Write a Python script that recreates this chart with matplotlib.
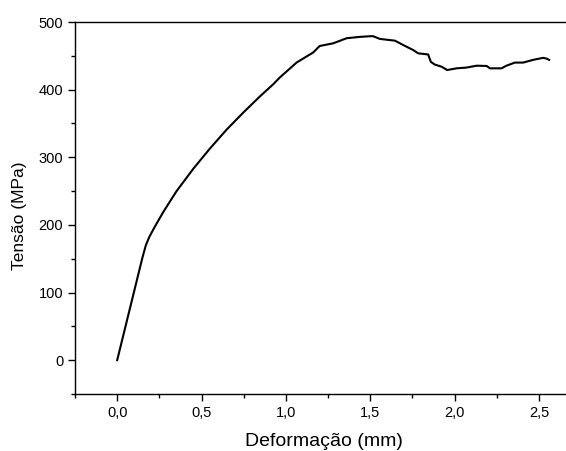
import matplotlib
matplotlib.use("Agg")
import matplotlib.pyplot as plt
from matplotlib.ticker import MultipleLocator, FuncFormatter

plt.rcParams['font.family'] = ['Liberation Sans', 'DejaVu Sans']

# curve
deformacao = [0.0, 0.15, 0.17, 0.19, 0.22, 0.273, 0.352, 0.451, 0.55,
              0.649, 0.747, 0.846, 0.925, 0.964, 1.063, 1.162, 1.20, 1.28, 1.36,
              1.438, 1.50, 1.517, 1.557, 1.646, 1.695, 1.754, 1.784, 1.843, 1.859,
              1.883, 1.922, 1.956, 2.011, 2.07, 2.13, 2.19, 2.209, 2.278, 2.307,
              2.357, 2.406, 2.465, 2.524, 2.544, 2.56]
tensao = [0, 152, 170, 182, 196, 219, 250, 283, 313,
          341, 366, 390, 408, 418, 440, 455, 464.5, 468.5, 476,
          478, 479, 479, 475, 472.4, 466, 458.6, 453.7, 452, 441,
          437, 434, 429, 431.5, 432.6, 435.4, 435, 431.5, 431.5, 435.4,
          440, 440, 444, 447, 446, 444]

fig = plt.figure(figsize=(5.66, 4.51), dpi=100)
ax = fig.add_axes([75 / 566, 1 - 394 / 451, 1 - 75 / 566, (394 - 22) / 451])

ax.plot(deformacao, tensao, color='black', lw=1.5)

ax.set_xlim(-0.25, 2.66)
ax.set_ylim(-50, 500)
ax.xaxis.set_major_locator(MultipleLocator(0.5))
ax.xaxis.set_minor_locator(MultipleLocator(0.25))
ax.yaxis.set_major_locator(MultipleLocator(100))
ax.yaxis.set_minor_locator(MultipleLocator(50))
ax.xaxis.set_major_formatter(FuncFormatter(lambda v, p: f"{v:.1f}".replace('.', ',')))

ax.spines['right'].set_visible(False)
for s in ['left', 'bottom', 'top']:
    ax.spines[s].set_linewidth(1.0)
ax.tick_params(which='major', direction='out', length=5, width=1.0, labelsize=10.5, pad=3.5)
ax.tick_params(which='minor', direction='out', length=3, width=1.0)

ax.set_xlabel('Deformação (mm)', fontsize=14)
ax.set_ylabel('Tensão (MPa)', fontsize=12.5)
ax.xaxis.set_label_coords(0.506, -0.105)
ax.yaxis.set_label_coords(-0.098, 0.478)

fig.savefig('out.png', dpi=100)
